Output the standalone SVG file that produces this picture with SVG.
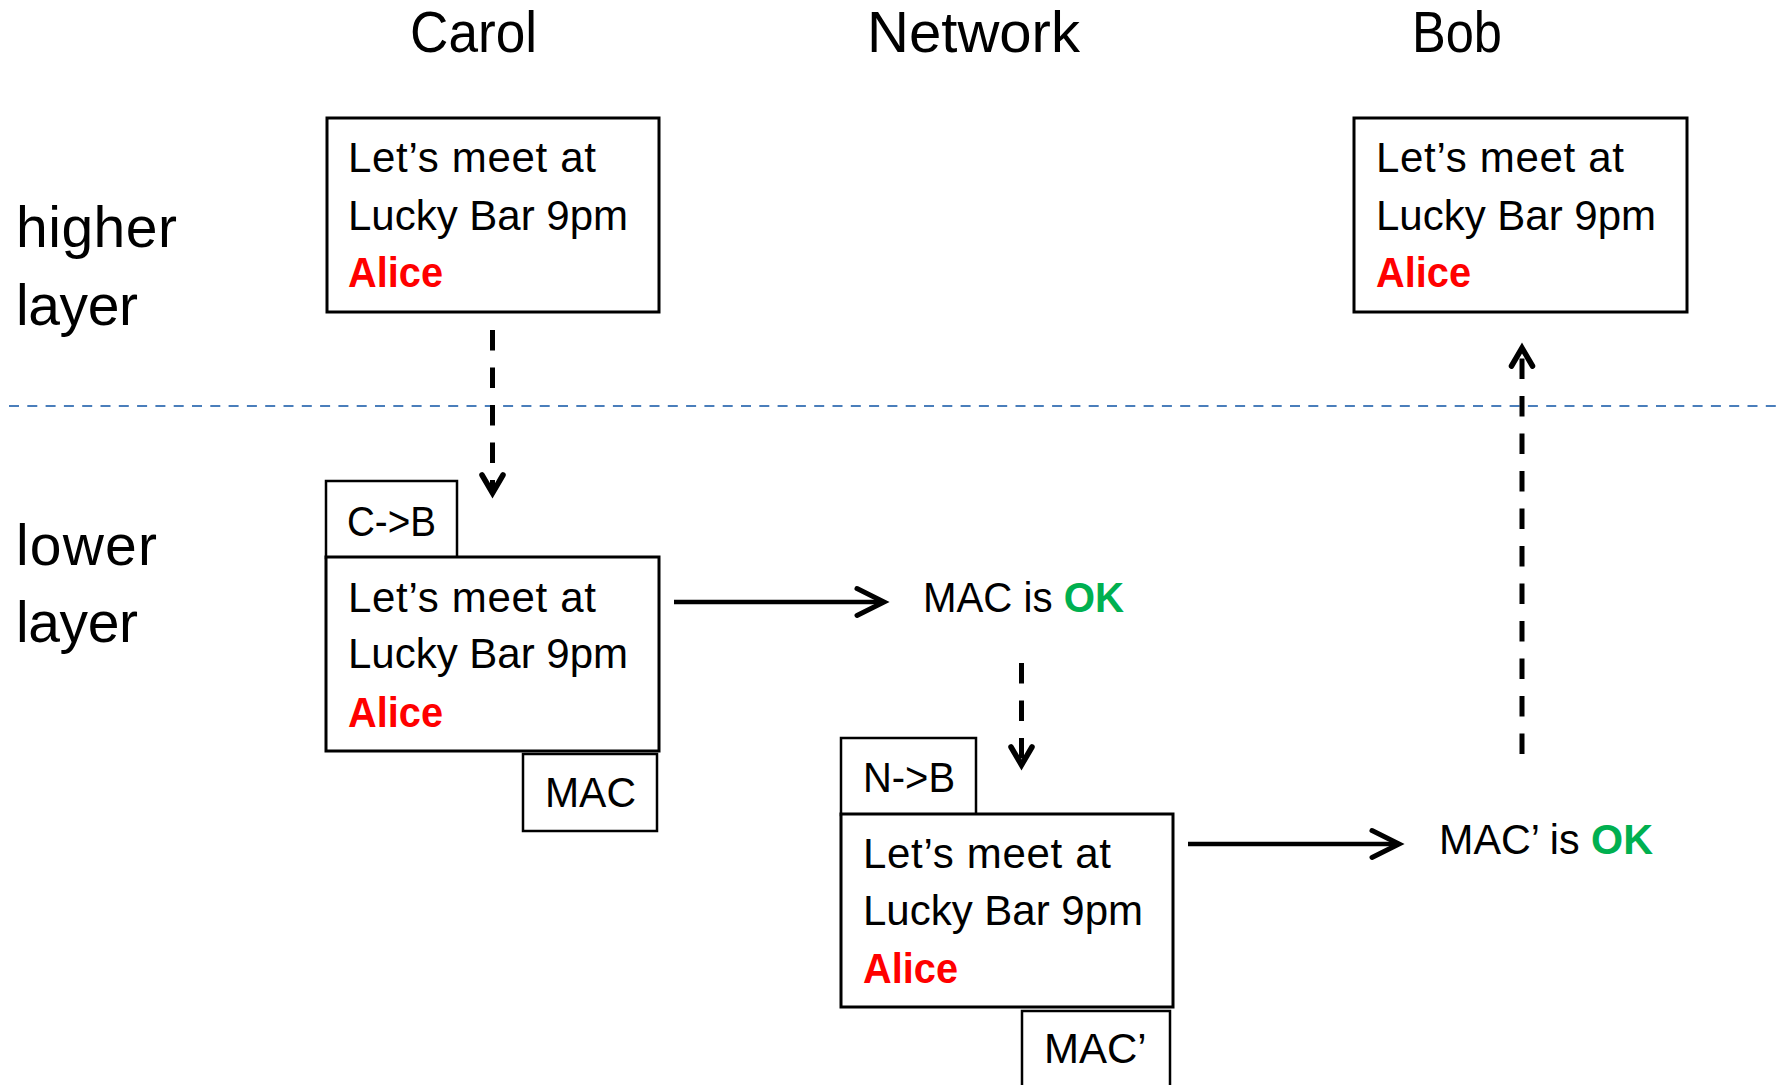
<svg xmlns="http://www.w3.org/2000/svg" width="1787" height="1085" viewBox="0 0 1787 1085">
  <style>
    text { font-family: "Liberation Sans", Arial, sans-serif; fill: #000; }
    .head { font-size: 58px; }
    .side { font-size: 57px; }
    .msg { font-size: 42px; }
    .who { font-size: 42px; font-weight: bold; fill: #FF0000; }
    .ok { font-weight: bold; fill: #00B050; }
    .box { fill: #fff; stroke: #000; stroke-width: 3; }
    .tag { fill: #fff; stroke: #000; stroke-width: 2.5; }
    .solid { stroke: #000; stroke-width: 4.5; fill: none; marker-end: url(#headBig); }
    .dash { stroke: #000; stroke-width: 5; fill: none; stroke-dasharray: 20.5 17; marker-end: url(#headSmall); }
    .divider { stroke: #4A7EBB; stroke-width: 2; stroke-dasharray: 10 8.3; fill: none; }
  </style>
  <defs>
    <marker id="headBig" markerUnits="userSpaceOnUse" markerWidth="40" markerHeight="40" viewBox="-34 -20 40 40" refX="0" refY="0" orient="auto" overflow="visible">
      <path d="M -27 -13.5 L 0 0 L -27 13.5" fill="none" stroke="#000" stroke-width="5" stroke-linecap="round" stroke-linejoin="miter"/>
    </marker>
    <marker id="headSmall" markerUnits="userSpaceOnUse" markerWidth="30" markerHeight="30" viewBox="-25 -15 30 30" refX="0" refY="0" orient="auto" overflow="visible">
      <path d="M -18 -10.5 L 0 0 L -18 10.5" fill="none" stroke="#000" stroke-width="5.5" stroke-linecap="round" stroke-linejoin="miter"/>
    </marker>
  </defs>

  <rect width="1787" height="1085" fill="#fff"/>

  <!-- column headings -->
  <g id="headings">
    <text class="head" x="410" y="52" textLength="127" lengthAdjust="spacingAndGlyphs">Carol</text>
    <text class="head" x="867" y="52" textLength="213" lengthAdjust="spacingAndGlyphs">Network</text>
    <text class="head" x="1412" y="52" textLength="90" lengthAdjust="spacingAndGlyphs">Bob</text>
  </g>

  <!-- layer labels -->
  <g id="layer-labels">
    <text class="side" x="16" y="247" textLength="161">higher</text>
    <text class="side" x="16" y="325" textLength="122">layer</text>
    <text class="side" x="16" y="565" textLength="141">lower</text>
    <text class="side" x="16" y="642" textLength="122">layer</text>
  </g>

  <!-- boundary between layers -->
  <line class="divider" x1="9" y1="406" x2="1780" y2="406"/>

  <!-- connectors -->
  <g id="connectors">
    <line class="dash" x1="492.5" y1="330" x2="492.5" y2="493"/>
    <line class="solid" x1="674" y1="602" x2="884" y2="602"/>
    <line class="dash" x1="1021.5" y1="663" x2="1021.5" y2="765"/>
    <line class="solid" x1="1188" y1="844" x2="1399" y2="844"/>
    <line class="dash" x1="1522" y1="754" x2="1522" y2="348"/>
  </g>

  <!-- Carol, higher layer message -->
  <g id="carol-message">
    <rect class="box" x="327" y="118" width="332" height="194"/>
    <text class="msg" x="348" y="172" textLength="248">Let’s meet at</text>
    <text class="msg" x="348" y="230" textLength="280">Lucky Bar 9pm</text>
    <text class="who" x="348" y="287" textLength="95" lengthAdjust="spacingAndGlyphs">Alice</text>
  </g>

  <!-- Bob, higher layer message -->
  <g id="bob-message">
    <rect class="box" x="1354" y="118" width="333" height="194"/>
    <text class="msg" x="1376" y="172" textLength="248">Let’s meet at</text>
    <text class="msg" x="1376" y="230" textLength="280">Lucky Bar 9pm</text>
    <text class="who" x="1376" y="287" textLength="95" lengthAdjust="spacingAndGlyphs">Alice</text>
  </g>

  <!-- Carol, lower layer frame -->
  <g id="carol-frame">
    <rect class="tag" x="326" y="481" width="131" height="77"/>
    <text class="msg" x="347" y="536" textLength="89" lengthAdjust="spacingAndGlyphs">C-&gt;B</text>
    <rect class="box" x="326" y="557" width="333" height="194"/>
    <text class="msg" x="348" y="612" textLength="248">Let’s meet at</text>
    <text class="msg" x="348" y="668" textLength="280">Lucky Bar 9pm</text>
    <text class="who" x="348" y="727" textLength="95" lengthAdjust="spacingAndGlyphs">Alice</text>
    <rect class="tag" x="523" y="754" width="134" height="77"/>
    <text class="msg" x="545" y="807" textLength="91" lengthAdjust="spacingAndGlyphs">MAC</text>
  </g>

  <!-- network check -->
  <g id="network-check">
    <text class="msg" x="923" y="612" textLength="201" lengthAdjust="spacingAndGlyphs">MAC is <tspan class="ok">OK</tspan></text>
  </g>

  <!-- Network, lower layer frame -->
  <g id="network-frame">
    <rect class="tag" x="841" y="738" width="135" height="77"/>
    <text class="msg" x="863" y="792" textLength="92" lengthAdjust="spacingAndGlyphs">N-&gt;B</text>
    <rect class="box" x="841" y="814" width="332" height="193"/>
    <text class="msg" x="863" y="868" textLength="248">Let’s meet at</text>
    <text class="msg" x="863" y="925" textLength="280">Lucky Bar 9pm</text>
    <text class="who" x="863" y="983" textLength="95" lengthAdjust="spacingAndGlyphs">Alice</text>
    <rect class="tag" x="1022" y="1011" width="148" height="90"/>
    <text class="msg" x="1044" y="1063">MAC’</text>
  </g>

  <!-- Bob check -->
  <g id="bob-check">
    <text class="msg" x="1439" y="854" textLength="214" lengthAdjust="spacingAndGlyphs">MAC’ is <tspan class="ok">OK</tspan></text>
  </g>
</svg>
